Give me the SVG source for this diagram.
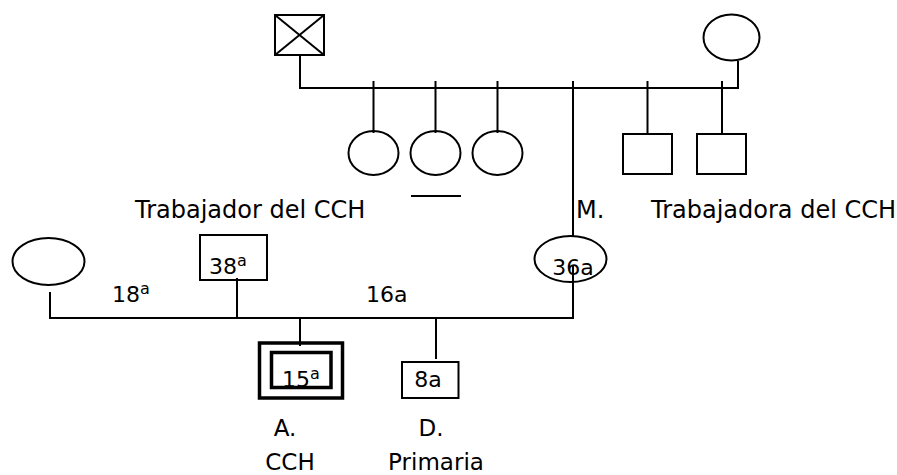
<svg xmlns="http://www.w3.org/2000/svg" width="897" height="475" viewBox="0 0 897 475">
<style>
.s{fill:none;stroke:#000;stroke-width:2}
.t{font-family:"DejaVu Sans",Verdana,sans-serif;font-size:22px;fill:#000}
.big{font-size:24px}
.mid{font-size:23px}
.sup{font-size:16px}
.thick{fill:none;stroke:#000;stroke-width:3.5}
</style>
<rect width="897" height="475" fill="#fff"/>
<g id="connectors" class="s">
<polyline points="300,55 300,88 738,88 738,61"/>
<line x1="373.5" y1="81" x2="373.5" y2="133"/>
<line x1="435.5" y1="81" x2="435.5" y2="133"/>
<line x1="497.5" y1="81" x2="497.5" y2="133"/>
<line x1="573" y1="81" x2="573" y2="236"/>
<line x1="647.5" y1="81" x2="647.5" y2="134"/>
<line x1="722" y1="81" x2="722" y2="134"/>
<polyline points="50,292 50,318 573,318 573,265"/>
<line x1="237" y1="278" x2="237" y2="318"/>
<line x1="300" y1="318" x2="300" y2="346"/>
<line x1="436" y1="318" x2="436" y2="359"/>
<line x1="411" y1="196" x2="461" y2="196"/>
</g>
<g id="grandfather">
<rect class="s" x="275" y="15" width="49" height="40"/>
<line class="s" x1="275" y1="15" x2="324" y2="55"/>
<line class="s" x1="324" y1="15" x2="275" y2="55"/>
</g>
<g id="grandmother"><ellipse class="s" cx="731.5" cy="37.5" rx="28" ry="23"/></g>
<g id="aunt1"><ellipse class="s" cx="373.5" cy="153" rx="25" ry="22"/></g>
<g id="aunt2"><ellipse class="s" cx="435.5" cy="153" rx="25" ry="22"/></g>
<g id="aunt3"><ellipse class="s" cx="497.5" cy="153" rx="25" ry="22"/></g>
<g id="uncle1"><rect class="s" x="623" y="134" width="49" height="40"/></g>
<g id="uncle2"><rect class="s" x="697" y="134" width="49" height="40"/></g>
<g id="mother">
<ellipse class="s" cx="570.5" cy="259" rx="36" ry="23"/>
<text class="t" x="573" y="275" text-anchor="middle">36a</text>
<text class="t big" x="576" y="218">M.</text>
</g>
<g id="label-trabajadora"><text class="t big" x="651" y="218">Trabajadora del CCH</text></g>
<g id="exwife"><ellipse class="s" cx="48.5" cy="261.5" rx="36" ry="23.5"/></g>
<g id="father">
<rect class="s" x="200" y="235" width="67" height="45"/>
<text class="t" x="209" y="274">38<tspan class="sup" dy="-8">a</tspan></text>
<text class="t big" x="135" y="218">Trabajador del CCH</text>
</g>
<g id="labels-years">
<text class="t" x="112" y="302">18<tspan class="sup" dy="-8">a</tspan></text>
<text class="t" x="366" y="302">16a</text>
</g>
<g id="child-A">
<rect class="thick" x="259.5" y="343" width="83" height="55"/>
<rect class="thick" x="271.5" y="352.5" width="59.5" height="35"/>
<text class="t" x="282" y="387">15<tspan class="sup" dy="-8">a</tspan></text>
<text class="t mid" x="285" y="436" text-anchor="middle">A.</text>
<text class="t mid" x="290" y="470" text-anchor="middle">CCH</text>
</g>
<g id="child-D">
<rect class="s" x="402" y="362" width="56.5" height="36"/>
<text class="t" x="428" y="387" text-anchor="middle">8a</text>
<text class="t mid" x="431" y="436" text-anchor="middle">D.</text>
<text class="t mid" x="436" y="470" text-anchor="middle">Primaria</text>
</g>
</svg>
